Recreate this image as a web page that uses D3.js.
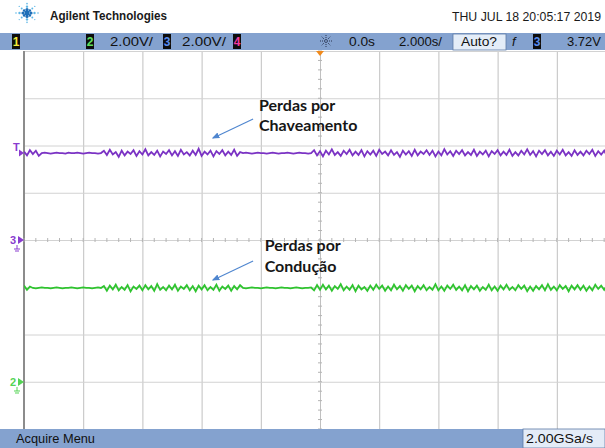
<!DOCTYPE html>
<html>
<head>
<meta charset="utf-8">
<script src="https://cdn.jsdelivr.net/npm/d3@7"></script>
<style>
	body { margin: 0; background: #fff; }
	svg { display: block; font-family: "Liberation Sans", Arial, sans-serif; }
</style>
</head>
<body>
<script>
// Scope settings
const timeTicks = [-10, -8, -6, -4, -2, 0, 2, 4, 6, 8, 10]; // s, 2.000 s/div
const voltTicks = [-8, -6, -4, -2, 0, 2, 4, 6, 8];          // V, 2.00 V/div
const sampleStart = -10;
const sampleStep = 0.1;

// channel 3 (purple) – "Perdas por Chaveamento"
const ch3Level = 3.68;
const ch3Ripple = [
	0.06,-0.1,0.12,-0.04,0.1,-0.12,0,0.02,0,-0.02,0,0.02,0,0,-0.02,0.02,0,0,0.02,0,
	-0.02,0,0.02,0,0,-0.02,0,0.1,-0.08,0.14,-0.06,0.04,-0.16,0.1,-0.1,0.06,-0.04,0.12,-0.12,0.08,
	-0.06,0.16,-0.1,0.04,-0.08,0.1,-0.14,0.06,-0.04,0.12,-0.1,0.08,-0.12,0.14,-0.06,0.04,-0.1,0.1,-0.08,0.18,
	-0.12,0.06,-0.06,0.1,-0.14,0.08,-0.04,0.12,-0.1,0.06,-0.08,0.14,-0.12,0.04,0,0.02,0,-0.02,0,0.02,
	0,0,-0.02,0,0.02,0,-0.02,0,0,0.02,0,-0.02,0,0.02,0,0,-0.02,0,0.12,-0.1,
	0.08,-0.14,0.1,-0.06,0.16,-0.08,0.04,-0.12,0.1,-0.04,0.14,-0.1,0.06,-0.08,0.12,-0.14,0.08,-0.06,0.1,-0.12,
	0.14,-0.04,0.06,-0.1,0.12,-0.08,0.04,-0.16,0.1,-0.06,0.08,-0.12,0.14,-0.1,0.06,-0.04,0.12,-0.08,0.1,-0.14,
	0.06,-0.1,0.16,-0.06,0.08,-0.12,0.1,-0.04,0.12,-0.1,0.04,-0.08,0.14,-0.12,0.06,-0.06,0.1,-0.14,0.08,-0.04,
	0.12,-0.1,0.06,-0.08,0.14,-0.12,0.04,-0.1,0.1,-0.06,0.16,-0.08,0.08,-0.14,0.1,-0.04,0.12,-0.1,0.06,-0.12,
	0.1,-0.06,0.14,-0.1,0.04,-0.12,0.12,-0.08,0.06,-0.1,0.1,-0.04,0.14,-0.12,0.08,-0.06,0.1,-0.14,0.06,-0.08
];

// channel 2 (green) – "Perdas por Condução"
const ch2Level = -2.03;
const ch2Ripple = [
	0.1,-0.08,0.06,0,-0.02,0,0.02,0,0,-0.02,0,0.02,0,-0.02,0,0,0.02,0,-0.02,0,
	0.02,0,0,-0.02,0,0.02,0,0.08,-0.12,0.1,-0.06,0.14,-0.1,0.04,-0.08,0.12,-0.14,0.06,-0.04,0.1,
	-0.1,0.12,-0.06,0.08,-0.12,0.16,-0.08,0.04,-0.1,0.1,-0.06,0.14,-0.12,0.06,-0.04,0.12,-0.1,0.08,-0.14,0.1,
	-0.06,0.12,-0.1,0.04,-0.08,0.14,-0.12,0.06,-0.04,0.1,-0.12,0.08,-0.06,0.12,0,-0.02,0,0.02,0,0,
	-0.02,0,0.02,0,0,-0.02,0,0.02,0,0,-0.02,0,0.02,0,-0.02,0,0,0.02,-0.1,0.12,
	-0.08,0.14,-0.06,0.1,-0.12,0.08,-0.04,0.16,-0.1,0.06,-0.08,0.12,-0.14,0.1,-0.06,0.04,-0.12,0.1,-0.08,0.14,
	-0.04,0.1,-0.12,0.06,-0.1,0.14,-0.06,0.08,-0.12,0.12,-0.04,0.1,-0.14,0.08,-0.06,0.12,-0.1,0.04,-0.08,0.16,
	-0.1,0.06,-0.12,0.1,-0.04,0.14,-0.08,0.06,-0.1,0.12,-0.14,0.08,-0.06,0.1,-0.12,0.04,-0.08,0.14,-0.1,0.06,
	-0.12,0.1,-0.06,0.14,-0.08,0.04,-0.1,0.12,-0.04,0.1,-0.14,0.06,-0.12,0.08,-0.06,0.12,-0.1,0.16,-0.08,0.06,
	-0.1,0.12,-0.04,0.08,-0.14,0.1,-0.06,0.12,-0.08,0.1,-0.12,0.06,-0.1,0.14,-0.04,0.1,-0.08,0.12,-0.14,0.06
];

// channel reference markers (V)
const ch3Ground = 0;
const ch2Ground = -6.01;

// annotations (time s, volts)
const labelLines = [
	{ t: -2.06, v: 5.46, text: "Perdas por" },
	{ t: -2.06, v: 4.61, text: "Chaveamento" },
	{ t: -1.87, v: -0.47, text: "Perdas por" },
	{ t: -1.87, v: -1.35, text: "Condução" }
];
const arrows = [
	{ t0: -2.26, v0: 5.12, t1: -3.61, v1: 4.32 },
	{ t0: -2.26, v0: -0.89, t1: -3.61, v1: -1.69 }
];

const width = 605;
const height = 448;
const grid = { left: 24, right: 616, top: 51, bottom: 429 };
const barBlue = "#84a2cf";

const svg = d3.select("body").append("svg")
	.attr("width", width)
	.attr("height", height);

svg.append("defs").append("clipPath")
	.attr("id", "gridclip")
	.append("rect")
	.attr("x", grid.left)
	.attr("y", grid.top)
	.attr("width", width - grid.left)
	.attr("height", grid.bottom - grid.top);

const x = d3.scaleLinear().domain([-10, 10]).range([grid.left, grid.right]);
const y = d3.scaleLinear().domain([-8, 8]).range([grid.bottom, grid.top]);

// Grid
svg.append("g")
	.attr("transform", `translate(0,${grid.bottom})`)
	.call(d3.axisBottom(x).tickValues(timeTicks).tickSize(-(grid.bottom - grid.top)).tickFormat(""))
	.call(g => g.select(".domain").remove())
	.call(g => g.selectAll("line").attr("stroke", "#c0c0c0"));

svg.append("g")
	.attr("transform", `translate(${grid.left},0)`)
	.call(d3.axisLeft(y).tickValues(voltTicks).tickSize(-(width - grid.left)).tickFormat(""))
	.call(g => g.select(".domain").remove())
	.call(g => g.selectAll("line").attr("stroke", "#d2d2d2"));

svg.append("line")
	.attr("x1", grid.left).attr("x2", grid.left)
	.attr("y1", grid.top).attr("y2", grid.bottom)
	.attr("stroke", "#8c8c8c")
	.attr("stroke-width", 2);

// minor ticks on the centre cross
const minorT = d3.range(-10, 10.01, 0.4);
const minorV = d3.range(-8, 8.01, 0.4);
svg.append("g").selectAll("line")
	.data(minorT)
	.join("line")
	.attr("x1", d => x(d)).attr("x2", d => x(d))
	.attr("y1", y(0) - 2).attr("y2", y(0) + 2)
	.attr("stroke", "#b4b4b4");
svg.append("g").selectAll("line")
	.data(minorV)
	.join("line")
	.attr("x1", x(0) - 2).attr("x2", x(0) + 2)
	.attr("y1", d => y(d)).attr("y2", d => y(d))
	.attr("stroke", "#b4b4b4");

// Traces
const traceLine = d3.line()
	.x((d, i) => x(sampleStart + i * sampleStep))
	.y(d => y(d));

const traces = svg.append("g").attr("clip-path", "url(#gridclip)");
traces.append("path")
	.datum(ch3Ripple.map(d => ch3Level + d))
	.attr("fill", "none")
	.attr("stroke", "#7b33c4")
	.attr("stroke-width", 1.8)
	.attr("d", traceLine);
traces.append("path")
	.datum(ch2Ripple.map(d => ch2Level + d))
	.attr("fill", "none")
	.attr("stroke", "#2fc42f")
	.attr("stroke-width", 1.8)
	.attr("d", traceLine);

// Channel markers on the left
function marker(v, label, color) {
	const g = svg.append("g").attr("transform", `translate(0,${y(v)})`);
	g.append("path")
		.attr("d", "M18,-4L24,0L18,4Z")
		.attr("fill", color);
	g.append("text")
		.attr("x", 10)
		.attr("y", 4)
		.attr("font-size", 11)
		.attr("font-weight", "bold")
		.attr("fill", color)
		.text(label);
	return g;
}
const m3 = marker(ch3Ground, "3", "#8a3ccf");
m3.append("path").attr("d", "M17,5V9M14,9H20M15,11H19").attr("stroke", "#8a3ccf").attr("fill", "none");
const m2 = marker(ch2Ground, "2", "#55d455");
m2.append("path").attr("d", "M17,5V9M14,9H20M15,11H19").attr("stroke", "#55d455").attr("fill", "none");
const mt = svg.append("g").attr("transform", `translate(0,${y(ch3Level)})`);
mt.append("path").attr("d", "M19,-3.5L24,0L19,3.5Z").attr("fill", "#8a3ccf");
mt.append("text").attr("x", 13).attr("y", -2).attr("font-size", 11).attr("font-weight", "bold")
	.attr("fill", "#8a3ccf").text("T");

// Annotations
svg.append("defs").append("marker")
	.attr("id", "head")
	.attr("viewBox", "0 0 10 10")
	.attr("refX", 8).attr("refY", 5)
	.attr("markerWidth", 7).attr("markerHeight", 7)
	.attr("orient", "auto")
	.append("path")
	.attr("d", "M0,1L10,5L0,9Z")
	.attr("fill", "#4f86cf");

svg.append("g").selectAll("line")
	.data(arrows)
	.join("line")
	.attr("x1", d => x(d.t0)).attr("y1", d => y(d.v0))
	.attr("x2", d => x(d.t1)).attr("y2", d => y(d.v1))
	.attr("stroke", "#4f86cf")
	.attr("stroke-width", 1.1)
	.attr("marker-end", "url(#head)");

svg.append("g").selectAll("text")
	.data(labelLines)
	.join("text")
	.attr("x", d => x(d.t))
	.attr("y", d => y(d.v))
	.attr("font-family", "Lato, 'Open Sans', sans-serif")
	.attr("font-weight", "bold")
	.attr("font-size", 16)
	.attr("fill", "#161616")
	.text(d => d.text);

// Header
const logo = svg.append("g").attr("transform", "translate(27,13)");
const rays = d3.range(0, 360, 45);
rays.forEach((a, k) => {
	[0, 4, 7.5, 11].forEach((r, j) => {
		const rad = a * Math.PI / 180;
		logo.append("circle")
			.attr("cx", r * Math.cos(rad))
			.attr("cy", r * Math.sin(rad) * 0.85)
			.attr("r", j === 0 ? 2.2 : [1.6, 1.2, 0.8][j - 1] * (k % 2 ? 0.8 : 1))
			.attr("fill", j < 2 ? "#1f6fb8" : "#5fb7e6");
	});
});

svg.append("text")
	.attr("x", 50).attr("y", 20)
	.attr("font-size", 12.5)
	.attr("font-weight", "bold")
	.attr("fill", "#1a1a1a")
	.attr("textLength", 117).attr("lengthAdjust", "spacingAndGlyphs")
	.text("Agilent Technologies");

svg.append("text")
	.attr("x", 452).attr("y", 21)
	.attr("font-size", 12.5)
	.attr("fill", "#1a1a1a")
	.attr("textLength", 149).attr("lengthAdjust", "spacingAndGlyphs")
	.text("THU JUL 18 20:05:17 2019");

// Top status bar
svg.append("rect")
	.attr("x", 0).attr("y", 33).attr("width", width).attr("height", 17)
	.attr("fill", barBlue);

const chanBoxes = [
	{ x: 12, label: "1", color: "#f2ea3a" },
	{ x: 86, label: "2", color: "#5fe05f" },
	{ x: 163, label: "3", color: "#5a8ef0" },
	{ x: 233, label: "4", color: "#f03aa0" },
	{ x: 533, label: "3", color: "#5a8ef0" }
];
svg.append("g").selectAll("g")
	.data(chanBoxes)
	.join("g")
	.each(function(d) {
		const g = d3.select(this);
		g.append("rect").attr("x", d.x).attr("y", 34).attr("width", 8).attr("height", 15).attr("fill", "#0d0d0d");
		g.append("text").attr("x", d.x + 4).attr("y", 46).attr("text-anchor", "middle")
			.attr("font-size", 12).attr("font-weight", "bold").attr("fill", d.color).text(d.label);
	});

const barTexts = [
	{ x: 110, w: 43, text: "2.00V/" },
	{ x: 182, w: 44, text: "2.00V/" },
	{ x: 349, w: 26, text: "0.0s" },
	{ x: 399, w: 43, text: "2.000s/" },
	{ x: 567, w: 34, text: "3.72V" }
];
svg.append("g").selectAll("text")
	.data(barTexts)
	.join("text")
	.attr("x", d => d.x).attr("y", 46)
	.attr("font-size", 13)
	.attr("fill", "#111")
	.attr("textLength", d => d.w).attr("lengthAdjust", "spacingAndGlyphs")
	.text(d => d.text);

svg.append("rect")
	.attr("x", 453).attr("y", 34).attr("width", 53).attr("height", 16)
	.attr("fill", "#e4edf8").attr("stroke", "#5d7aa6").attr("stroke-width", 0.8);
svg.append("text")
	.attr("x", 461).attr("y", 46).attr("font-size", 13).attr("fill", "#111")
	.attr("textLength", 36).attr("lengthAdjust", "spacingAndGlyphs")
	.text("Auto?");
svg.append("text")
	.attr("x", 512).attr("y", 46).attr("font-size", 13).attr("font-style", "italic").attr("fill", "#111")
	.text("f");

// sun icon
const sun = svg.append("g").attr("transform", "translate(326,41)");
d3.range(0, 360, 45).forEach(a => {
	const rad = a * Math.PI / 180;
	sun.append("line")
		.attr("x1", 3 * Math.cos(rad)).attr("y1", 3 * Math.sin(rad))
		.attr("x2", 6 * Math.cos(rad)).attr("y2", 6 * Math.sin(rad))
		.attr("stroke", "#2a3550").attr("stroke-width", 1).attr("stroke-dasharray", "1,1");
});
sun.append("circle").attr("r", 1.5).attr("fill", "none").attr("stroke", "#2a3550").attr("stroke-width", 0.8);

// trigger position marker
svg.append("path")
	.attr("d", `M${x(0) - 4},${grid.top}L${x(0) + 4},${grid.top}L${x(0)},${grid.top + 5}Z`)
	.attr("fill", "#f08a1c");

// Bottom bar
svg.append("rect")
	.attr("x", 0).attr("y", 429).attr("width", width).attr("height", 19)
	.attr("fill", barBlue);
svg.append("text")
	.attr("x", 16).attr("y", 443).attr("font-size", 13).attr("fill", "#111")
	.attr("textLength", 79).attr("lengthAdjust", "spacingAndGlyphs")
	.text("Acquire Menu");
svg.append("rect")
	.attr("x", 523).attr("y", 429).attr("width", 82).attr("height", 19)
	.attr("fill", "#e4ecf7").attr("stroke", "#5d7aa6").attr("stroke-width", 0.8);
svg.append("text")
	.attr("x", 526).attr("y", 443).attr("font-size", 13).attr("fill", "#111")
	.attr("textLength", 67).attr("lengthAdjust", "spacingAndGlyphs")
	.text("2.00GSa/s");
</script>
</body>
</html>
